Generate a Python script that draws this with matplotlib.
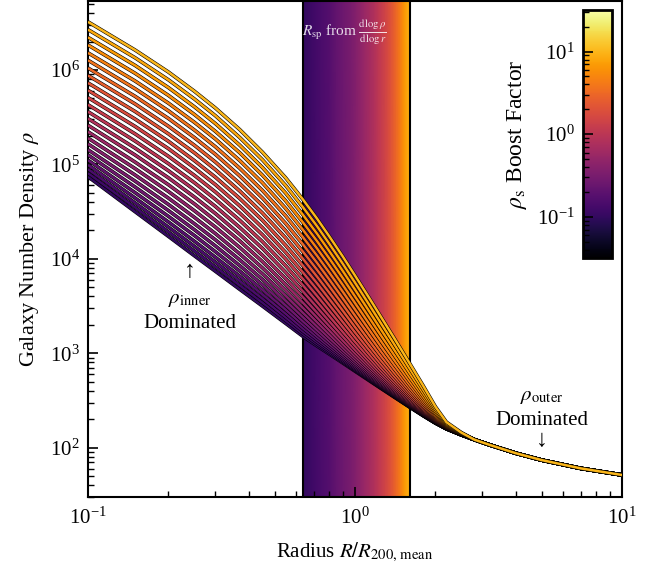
import numpy as np
import pandas as pd
import matplotlib

matplotlib.use("Agg")
import matplotlib.pyplot as plt
import matplotlib.patheffects as pe
from matplotlib.colors import LogNorm

plt.rcParams.update(
    {
        "font.family": ["Liberation Serif", "DejaVu Serif"],
        "mathtext.fontset": "stix",
        "font.size": 15,
        "axes.linewidth": 1.5,
        "xtick.direction": "in",
        "ytick.direction": "in",
        "xtick.major.size": 7,
        "ytick.major.size": 7,
        "xtick.minor.size": 4,
        "ytick.minor.size": 4,
        "xtick.major.width": 1.2,
        "ytick.major.width": 1.2,
        "xtick.minor.width": 1.0,
        "ytick.minor.width": 1.0,
        "xtick.major.pad": 8,
        "ytick.major.pad": 6,
    }
)

# rho_s boost factors, one curve each
boost = [0.1, 0.1212, 0.1468, 0.1778, 0.2154, 0.2610, 0.3162, 0.3831, 0.4642,
         0.5623, 0.6813, 0.8254, 1.0, 1.212, 1.468, 1.778, 2.154, 2.610, 3.162,
         3.831, 4.642, 5.623, 6.813, 8.254, 10.0]

# radius grid where the curves are distinct (R / R200m)
radius = [0.1, 0.15, 0.2, 0.25, 0.3, 0.37, 0.45, 0.55, 0.64, 0.72, 0.8, 0.9,
          1.0, 1.12, 1.25, 1.4, 1.6, 1.8, 2.0, 2.2, 2.5]

# density at each radius, ordered like `boost`
rho_r0p10 = [7.41e4, 8.09e4, 8.91e4, 9.90e4, 1.11e5, 1.26e5, 1.43e5, 1.65e5, 1.90e5,
             2.22e5, 2.60e5, 3.06e5, 3.62e5, 4.29e5, 5.11e5, 6.10e5, 7.30e5, 8.76e5,
             1.05e6, 1.27e6, 1.52e6, 1.84e6, 2.22e6, 2.68e6, 3.24e6]
rho_r0p15 = [3.16e4, 3.51e4, 3.92e4, 4.42e4, 5.03e4, 5.77e4, 6.66e4, 7.74e4, 9.05e4,
             1.06e5, 1.26e5, 1.49e5, 1.77e5, 2.11e5, 2.53e5, 3.03e5, 3.64e5, 4.38e5,
             5.27e5, 6.35e5, 7.66e5, 9.25e5, 1.12e6, 1.35e6, 1.63e6]
rho_r0p20 = [1.73e4, 1.93e4, 2.17e4, 2.46e4, 2.82e4, 3.25e4, 3.77e4, 4.40e4, 5.17e4,
             6.10e4, 7.22e4, 8.58e4, 1.02e5, 1.22e5, 1.47e5, 1.76e5, 2.11e5, 2.54e5,
             3.07e5, 3.70e5, 4.46e5, 5.39e5, 6.52e5, 7.88e5, 9.53e5]
rho_r0p25 = [1.08e4, 1.21e4, 1.36e4, 1.54e4, 1.77e4, 2.04e4, 2.36e4, 2.76e4, 3.24e4,
             3.83e4, 4.53e4, 5.39e4, 6.42e4, 7.68e4, 9.20e4, 1.10e5, 1.33e5, 1.60e5,
             1.93e5, 2.32e5, 2.80e5, 3.39e5, 4.09e5, 4.95e5, 5.98e5]
rho_r0p30 = [7380, 8210, 9220, 1.04e4, 1.19e4, 1.37e4, 1.59e4, 1.85e4, 2.17e4,
             2.55e4, 3.02e4, 3.59e4, 4.27e4, 5.11e4, 6.11e4, 7.33e4, 8.81e4, 1.06e5,
             1.28e5, 1.54e5, 1.86e5, 2.24e5, 2.71e5, 3.28e5, 3.96e5]
rho_r0p37 = [4750, 5240, 5840, 6550, 7420, 8480, 9760, 1.13e4, 1.32e4,
             1.55e4, 1.82e4, 2.15e4, 2.56e4, 3.05e4, 3.64e4, 4.36e4, 5.23e4, 6.28e4,
             7.56e4, 9.11e4, 1.10e5, 1.33e5, 1.60e5, 1.93e5, 2.34e5]
rho_r0p45 = [3160, 3440, 3780, 4200, 4700, 5310, 6050, 6940, 8020,
             9340, 1.09e4, 1.29e4, 1.52e4, 1.80e4, 2.14e4, 2.56e4, 3.06e4, 3.67e4,
             4.41e4, 5.30e4, 6.39e4, 7.70e4, 9.29e4, 1.12e5, 1.35e5]
rho_r0p55 = [2070, 2220, 2400, 2620, 2890, 3210, 3600, 4070, 4650,
             5340, 6180, 7200, 8440, 9940, 1.17e4, 1.39e4, 1.66e4, 1.98e4,
             2.37e4, 2.85e4, 3.42e4, 4.11e4, 4.96e4, 5.98e4, 7.21e4]
rho_r0p64 = [1500, 1590, 1690, 1820, 1980, 2160, 2390, 2660, 3000,
             3400, 3890, 4480, 5190, 6060, 7110, 8380, 9920, 1.18e4,
             1.41e4, 1.68e4, 2.01e4, 2.41e4, 2.90e4, 3.49e4, 4.21e4]
rho_r0p72 = [1197, 1252, 1318, 1398, 1495, 1613, 1756, 1929, 2139,
             2392, 2700, 3072, 3524, 4072, 4734, 5535, 6507, 7686,
             9113, 10842, 12939, 15475, 18552, 22277, 26791]
rho_r0p80 = [984, 1019, 1062, 1113, 1176, 1251, 1343, 1454, 1589,
             1752, 1949, 2188, 2478, 2830, 3255, 3770, 4394, 5151,
             6068, 7178, 8525, 10153, 12129, 14521, 17420]
rho_r0p90 = [789, 810, 835, 866, 903, 948, 1003, 1069, 1150,
             1247, 1364, 1507, 1680, 1890, 2143, 2450, 2822, 3274,
             3820, 4483, 5286, 6257, 7435, 8861, 10590]
rho_r1p00 = [646, 659, 674, 693, 716, 744, 777, 818, 867,
             927, 999, 1086, 1193, 1321, 1477, 1665, 1894, 2171,
             2506, 2913, 3405, 4001, 4725, 5600, 6661]
rho_r1p12 = [522, 530, 539, 550, 563, 579, 599, 622, 651,
             686, 728, 779, 840, 915, 1005, 1115, 1248, 1409,
             1604, 1840, 2126, 2473, 2893, 3402, 4018]
rho_r1p25 = [425, 429, 434, 441, 448, 457, 469, 482, 499,
             519, 543, 572, 608, 651, 703, 766, 842, 935,
             1048, 1184, 1349, 1548, 1790, 2083, 2438]
rho_r1p40 = [344.4, 346.8, 349.7, 353.1, 357.4, 362.5, 368.7, 376.2, 385.3,
             396.3, 409.6, 425.8, 445.4, 469.2, 497.9, 532.7, 574.9, 626.0,
             688.0, 763.0, 854.0, 964.1, 1097.6, 1259.3, 1455.2]
rho_r1p60 = [269.2, 270.3, 271.7, 273.3, 275.2, 277.6, 280.5, 284.0, 288.2,
             293.3, 299.5, 307.0, 316.1, 327.2, 340.5, 356.7, 376.3, 400.0,
             428.8, 463.7, 505.9, 557.1, 619.1, 694.2, 785.2]
rho_r1p80 = [217.8, 218.3, 218.9, 219.6, 220.5, 221.6, 222.9, 224.5, 226.4,
             228.8, 231.6, 235.0, 239.2, 244.2, 250.3, 257.6, 266.6, 277.4,
             290.5, 306.4, 325.6, 348.9, 377.2, 411.4, 452.9]
rho_r2p00 = [182.0, 182.2, 182.4, 182.7, 183.0, 183.5, 184.0, 184.6, 185.3,
             186.2, 187.3, 188.6, 190.2, 192.1, 194.4, 197.2, 200.6, 204.7,
             209.7, 215.8, 223.1, 232.0, 242.8, 255.8, 271.6]
rho_r2p20 = [158.1, 158.1, 158.2, 158.3, 158.4, 158.5, 158.7, 158.9, 159.1,
             159.4, 159.7, 160.1, 160.6, 161.2, 162.0, 162.8, 163.9, 165.2,
             166.8, 168.7, 171.0, 173.8, 177.1, 181.2, 186.2]
rho_r2p50 = [136.5, 136.5, 136.5, 136.6, 136.6, 136.6, 136.7, 136.7, 136.8,
             136.9, 137.0, 137.1, 137.2, 137.4, 137.6, 137.9, 138.2, 138.5,
             139.0, 139.5, 140.2, 141.0, 141.9, 143.1, 144.5]

# outer part, where all curves coincide
tail_radius = [2.8, 3.2, 4.0, 5.0, 7.0, 10.0]
tail_rho = [121.5, 106.7, 87.3, 73.8, 60.3, 51.3]

# splashback radius found for each boost factor
r_sp = [0.64, 0.69, 0.745, 0.805, 0.85, 0.905, 0.965, 1.01, 1.05, 1.09, 1.135,
        1.18, 1.22, 1.26, 1.30, 1.335, 1.37, 1.40, 1.43, 1.46, 1.485, 1.51,
        1.54, 1.575, 1.61]

columns = [rho_r0p10, rho_r0p15, rho_r0p20, rho_r0p25, rho_r0p30, rho_r0p37,
           rho_r0p45, rho_r0p55, rho_r0p64, rho_r0p72, rho_r0p80, rho_r0p90,
           rho_r1p00, rho_r1p12, rho_r1p25, rho_r1p40, rho_r1p60, rho_r1p80,
           rho_r2p00, rho_r2p20, rho_r2p50]
profiles = pd.DataFrame(dict(zip(radius, columns)), index=boost)

YLIM = (30, 5.4e6)
cmap = plt.get_cmap("inferno")
norm = LogNorm(vmin=10 ** -1.5, vmax=10 ** 1.5)

fig = plt.figure(figsize=(6.5, 5.65), dpi=100)
ax = fig.add_axes([0.1354, 0.1204, 0.8215, 0.878])

# splashback band, coloured by boost factor
band_x = np.array(r_sp)
band_c = np.log10(np.array(boost))
ax.pcolormesh(
    np.vstack([band_x, band_x]),
    np.vstack([np.full_like(band_x, YLIM[0]), np.full_like(band_x, YLIM[1])]),
    np.vstack([band_c, band_c]),
    cmap=cmap,
    vmin=-1.5,
    vmax=1.5,
    shading="gouraud",
    zorder=1,
)
for xb in (r_sp[0], r_sp[-1]):
    ax.axvline(xb, color="k", lw=1.5, zorder=2)

xs = list(profiles.columns) + tail_radius
for b, row in profiles.iterrows():
    ys = list(row.values) + tail_rho
    ax.plot(
        xs,
        ys,
        color=cmap(norm(b)),
        lw=1.8,
        solid_capstyle="butt",
        solid_joinstyle="round",
        path_effects=[pe.Stroke(linewidth=2.6, foreground="k"), pe.Normal()],
        zorder=3,
    )

ax.set_xscale("log")
ax.set_yscale("log")
ax.set_xlim(0.1, 10)
ax.set_ylim(*YLIM)
ax.set_xlabel(r"Radius $R/R_{200,\,\rm mean}$", labelpad=8)
ax.set_ylabel(r"Galaxy Number Density $\rho$", fontsize=16, labelpad=6)

ax.text(0.915, 2.45e6, r"$R_{\rm sp}$ from $\frac{{\rm d}\log\rho}{{\rm d}\log r}$",
        color="w", alpha=0.85, fontsize=11, ha="center", va="center", zorder=4)

ax.text(0.24, 7.4e3, "\u2191", fontsize=17, ha="center", va="center", zorder=4)
ax.text(0.24, 3.7e3, r"$\rho_{\rm inner}$", ha="center", va="center", zorder=4)
ax.text(0.24, 2.05e3, "Dominated", ha="center", va="center", zorder=4)

ax.text(5.0, 350, r"$\rho_{\rm outer}$", ha="center", va="center", zorder=4)
ax.text(5.0, 195, "Dominated", ha="center", va="center", zorder=4)
ax.text(5.0, 119, "\u2193", fontsize=17, ha="center", va="center", zorder=4)

# inset colour bar
cax = fig.add_axes([0.897, 0.543, 0.0446, 0.439])
sm = plt.cm.ScalarMappable(norm=norm, cmap=cmap)
cb = fig.colorbar(sm, cax=cax)
cb.outline.set_linewidth(2)
cax.yaxis.set_ticks_position("left")
cax.yaxis.set_label_position("left")
cax.tick_params(which="both", direction="in", left=True, right=False)
cb.set_label(r"$\rho_{\rm s}$ Boost Factor", fontsize=17, labelpad=6)

fig.savefig("out.png", dpi=100)
